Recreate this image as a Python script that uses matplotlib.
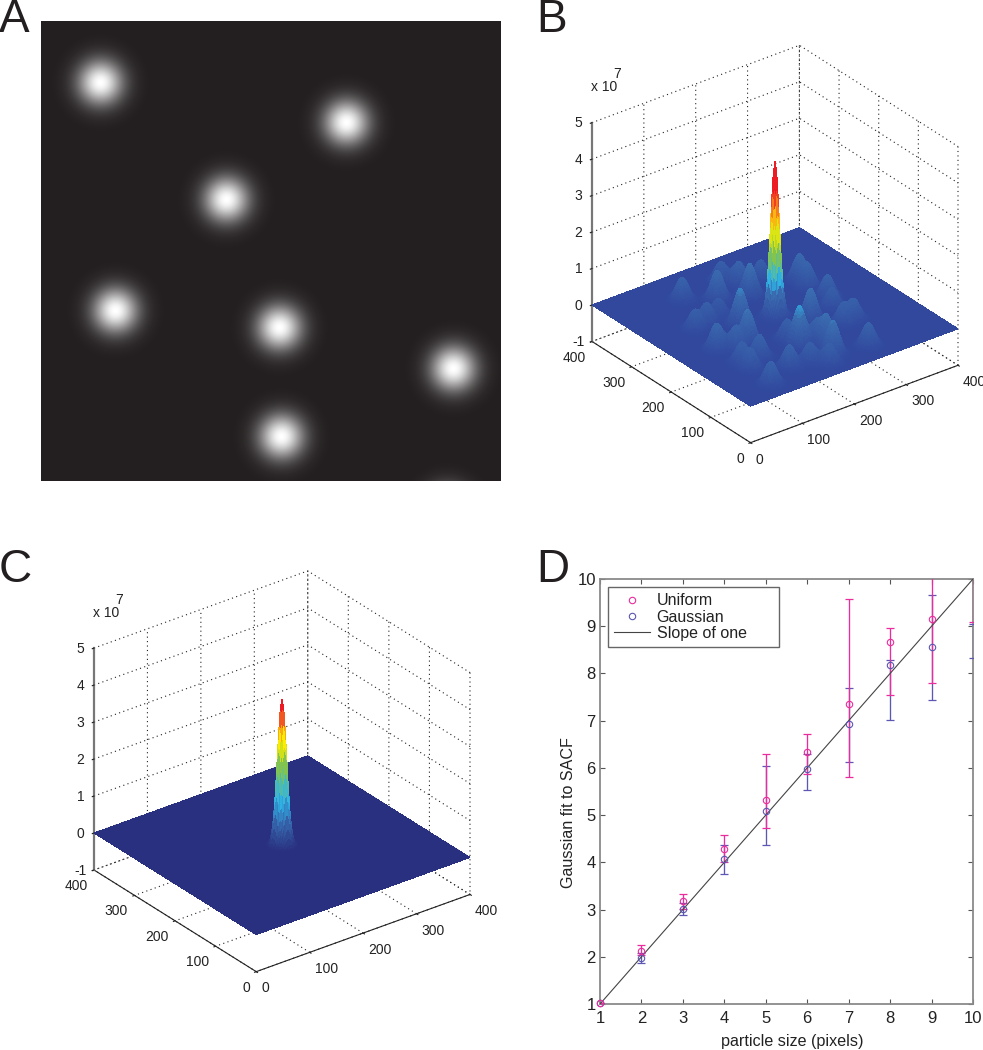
import numpy as np
import matplotlib
matplotlib.use('Agg')
import matplotlib.pyplot as plt
from matplotlib.colors import LinearSegmentedColormap
from mpl_toolkits.mplot3d import proj3d

plt.rcParams['font.family'] = ['Liberation Sans', 'DejaVu Sans']
plt.rcParams['axes.unicode_minus'] = False
plt.rcParams['grid.color'] = '#222222'
plt.rcParams['grid.linestyle'] = (0, (1, 3))
plt.rcParams['grid.linewidth'] = 0.8

W, H = 983, 1050

# Panel A: particle centres (pixels of the 460 px image)
blob_x = [59, 305, 185, 74, 238, 412, 240, 406]
blob_y = [61, 101, 178, 289, 306, 347, 415, 490]

# Panel B: correlation side peaks (position, height / 1e7)
peak_x = [118, 162, 201, 217, 208, 253, 297, 295, 300, 287, 291, 268, 235, 143, 135, 105, 78,
          117, 174, 207, 204, 171, 199, 258, 66, 90, 103, 120, 155, 176, 71, 70, 66]
peak_y = [327, 296, 338, 313, 274, 305, 266, 242, 198, 169, 120, 118, 156, 213, 257, 248, 242,
          160, 104, 79, 101, 132, 52, 40, 172, 154, 112, 59, 53, 31, 116, 91, 35]
peak_h = [.64, .82, .55, .64, .91, .55, .73, .64, .64, .55, .55, .55, .91, 1.0, .45, .55, .55,
          .91, 1.09, .82, .55, .55, .91, .64, .73, .64, .64, .64, .55, .55, .55, .55, .64]
spike_b = 4.25
spike_c = 3.95

# Panel D
sizes = [1, 2, 3, 4, 5, 6, 7, 8, 9, 10]
uni_mean = [1.02, 2.13, 3.18, 4.28, 5.33, 6.34, 7.35, 8.67, 9.16]
uni_low = [1.02, 2.03, 3.02, 4.00, 4.73, 5.88, 5.80, 7.55, 7.80, 9.08]
uni_high = [1.02, 2.24, 3.34, 4.58, 6.30, 6.72, 9.58, 8.97, 10.5, 10.8]
gau_mean = [1.02, 1.97, 3.01, 4.07, 5.09, 5.98, 6.92, 8.17, 8.55]
gau_low = [1.02, 1.87, 2.88, 3.76, 4.36, 5.53, 6.13, 7.01, 7.44, 8.33]
gau_high = [1.02, 2.07, 3.13, 4.36, 6.05, 6.30, 7.69, 8.29, 9.66, 9.05]

MAGENTA = '#ea2c9c'
BLUE = '#5b57b2'

fig = plt.figure(figsize=(W / 100, H / 100), dpi=100, facecolor='white')


def rect(x0, y0, x1, y1):
    return [x0 / W, 1 - y1 / H, (x1 - x0) / W, (y1 - y0) / H]


# ---------- A
axA = fig.add_axes(rect(41, 21, 501, 481))
yy, xx = np.mgrid[0:460, 0:460]
img = np.zeros((460, 460))
for bx, by in zip(blob_x, blob_y):
    img = np.maximum(img, np.exp(-((xx - bx) ** 2 + (yy - by) ** 2) / (2 * 15.5 ** 2)))
axA.imshow(img, cmap=LinearSegmentedColormap.from_list('a', ['#231f20', '#ffffff']), vmin=0, vmax=1,
           interpolation='bilinear', aspect='auto')
axA.axis('off')


# ---------- B, C
def surface_panel(Z_fn, stops, elev, azim, aspect, left_px, right_px, exp_xy):
    ax = fig.add_axes(rect(100, 100, 500, 500), projection='3d', proj_type='ortho')
    ax.patch.set_alpha(0)
    ax.view_init(elev=elev, azim=azim)
    ax.set_box_aspect(aspect)
    ax.set_xlim(0, 400, view_margin=0)
    ax.set_ylim(0, 400, view_margin=0)
    ax.set_zlim(-1, 5, view_margin=0)
    ax.set_xticks([0, 100, 200, 300, 400])
    ax.set_yticks([0, 100, 200, 300, 400])
    ax.set_zticks([-1, 0, 1, 2, 3, 4, 5])
    g = np.arange(0, 401, 2.0)
    X, Y = np.meshgrid(g, g)
    Z = Z_fn(X, Y)
    cmap = LinearSegmentedColormap.from_list('c', stops)
    ax.plot_surface(X, Y, Z, cmap=cmap, vmin=0, vmax=Z.max(), rstride=1, cstride=1,
                    linewidth=0, antialiased=False, shade=False)
    for a in (ax.xaxis, ax.yaxis, ax.zaxis):
        a.pane.set_facecolor((1, 1, 1, 0))
        a.pane.set_edgecolor((1, 1, 1, 0))
        a._axinfo['tick'].update(inward_factor=0.1, outward_factor=0.0)
    ax.xaxis.line.set_color('#222222')
    ax.yaxis.line.set_color('#222222')
    ax.zaxis.line.set_color('#777777')
    ax.zaxis.line.set_linewidth(1.6)
    ax.tick_params(axis='both', labelsize=10, colors='#222222')
    ax.tick_params(axis='x', pad=-3)
    ax.tick_params(axis='y', pad=-3)
    ax.tick_params(axis='z', pad=-2)
    for t in ax.xaxis.get_major_ticks():
        t.label1.set_ha('left')
    for t in ax.yaxis.get_major_ticks():
        t.label1.set_ha('right')
    for t in ax.zaxis.get_major_ticks():
        t.label1.set_va('center_baseline')
    # place the box so that the floor corners land where wanted
    cx, cy, S = 300.0, 300.0, 400.0
    for _ in range(3):
        ax.set_position(rect(cx - S / 2, cy - S / 2, cx + S / 2, cy + S / 2))
        ax.apply_aspect()
        m = ax.get_proj()
        pts = []
        for p in [(0, 400, 0), (400, 0, 0)]:
            xs, ys, _z = proj3d.proj_transform(*p, m)
            px = ax.transData.transform((xs, ys))
            pts.append((px[0], H - px[1]))
        S *= (right_px[0] - left_px[0]) / (pts[1][0] - pts[0][0])
        ax.set_position(rect(cx - S / 2, cy - S / 2, cx + S / 2, cy + S / 2))
        ax.apply_aspect()
        m = ax.get_proj()
        xs, ys, _z = proj3d.proj_transform(0, 400, 0, m)
        px = ax.transData.transform((xs, ys))
        cx += left_px[0] - px[0]
        cy += left_px[1] - (H - px[1])
    ax.set_position(rect(cx - S / 2, cy - S / 2, cx + S / 2, cy + S / 2))
    fig.text(exp_xy[0] / W, 1 - exp_xy[1] / H, 'x 10', fontsize=10, color='#222222', ha='left', va='center')
    fig.text((exp_xy[0] + 22) / W, 1 - (exp_xy[1] - 13) / H, '7', fontsize=10, color='#222222', ha='left', va='center')
    return ax


def z_b(X, Y):
    Z = np.zeros_like(X)
    for px, py, ph in zip(peak_x, peak_y, peak_h):
        Z = Z + ph * np.exp(-((X - px) ** 2 + (Y - py) ** 2) / (2 * 10.0 ** 2))
    r2 = (X - 200) ** 2 + (Y - 200) ** 2
    return Z + (spike_b - 0.5) * np.exp(-r2 / (2 * 6.5 ** 2)) + 0.5 * np.exp(-r2 / (2 * 12.0 ** 2))


def z_c(X, Y):
    r2 = (X - 200) ** 2 + (Y - 200) ** 2
    return spike_c * np.exp(-r2 / (2 * 7.0 ** 2))


stops_b = [(0.0, '#31489d'), (0.2, '#3a6cb0'), (0.29, '#2fb4e6'), (0.47, '#8cc63f'),
           (0.63, '#fff200'), (0.72, '#f7941d'), (0.85, '#ed1c24'), (1.0, '#ed1c24')]
stops_c = [(0.0, '#29307f'), (0.18, '#3560a8'), (0.38, '#2fb4e6'), (0.62, '#8cc63f'),
           (0.75, '#fff200'), (0.84, '#f7941d'), (0.93, '#ed1c24'), (1.0, '#ed1c24')]

surface_panel(z_b, stops_b, 29.2, 232.6, (1, 1, 0.96), (592, 305), (958, 330), (591, 87))
surface_panel(z_c, stops_c, 28.4, 232.8, (1, 1, 0.94), (94, 833), (470, 858), (93, 613))

# ---------- D
axD = fig.add_axes(rect(600, 579, 973, 1004))
axD.set_xlim(1, 10)
axD.set_ylim(1, 10)
axD.plot([1, 10], [1, 10], color='#444444', lw=0.8, label='Slope of one', zorder=5)


def bars(mean, low, high, color, label, z):
    mid = (np.array(low) + np.array(high)) / 2
    axD.errorbar(sizes, mid, yerr=[mid - np.array(low), np.array(high) - mid], fmt='none',
                 ecolor=color, elinewidth=0.95, capsize=3.1, capthick=0.9, zorder=z)
    axD.plot(sizes[:len(mean)], mean, 'o', mfc='none', mec=color, mew=0.8, ms=4.6, label=label,
             zorder=z + 3, clip_on=False)


bars(gau_mean, gau_low, gau_high, BLUE, 'Gaussian', 3)
bars(uni_mean, uni_low, uni_high, MAGENTA, 'Uniform', 4)
axD.set_xticks(sizes)
axD.set_yticks(sizes)
axD.tick_params(direction='in', top=True, right=True, length=3.5, width=0.8, color='#555555',
                labelsize=12, labelcolor='#222222')
axD.tick_params(axis='x', pad=5)
axD.tick_params(axis='y', pad=3)
for s in axD.spines.values():
    s.set_color('#8a8a8a')
    s.set_linewidth(1.3)
axD.set_xlabel('particle size (pixels)', fontsize=11.6, color='#222222')
axD.set_ylabel('Gaussian fit to SACF', fontsize=11.6, color='#222222')
axD.xaxis.set_label_coords(0.515, -0.0706)
axD.yaxis.set_label_coords(-0.064, 0.45)
h, l = axD.get_legend_handles_labels()
order = [l.index('Uniform'), l.index('Gaussian'), l.index('Slope of one')]
axD.legend([h[i] for i in order], [l[i] for i in order], loc='upper left',
           bbox_to_anchor=(8 / 373, 1 - 8 / 425, 171 / 373, 0.0), mode='expand', borderaxespad=0,
           fancybox=False, framealpha=1, edgecolor='#666666', fontsize=11.5, labelspacing=0.08,
           handlelength=2.2, handletextpad=0.45, borderpad=0.4, labelcolor='#222222')

# ---------- panel letters
for t, x, y in [('A', -1, 20), ('B', 536, 20), ('C', -1, 570), ('D', 536, 570)]:
    fig.text(x / W, 1 - y / H, t, fontsize=33, color='#231f20', ha='left', va='center')

fig.savefig('out.png', dpi=100)
